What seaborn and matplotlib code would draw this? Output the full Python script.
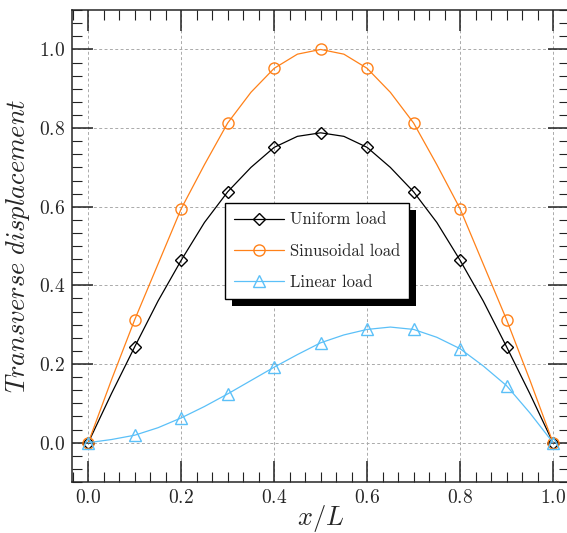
import matplotlib
matplotlib.use("Agg")
import matplotlib.pyplot as plt
import matplotlib.patheffects as pe
from matplotlib.ticker import MultipleLocator
import seaborn as sns

# positions along the beam (markers every 0.1, line points every 0.05)
x_pos = [0.0, 0.05, 0.1, 0.15, 0.2, 0.25, 0.3, 0.35, 0.4, 0.45, 0.5,
         0.55, 0.6, 0.65, 0.7, 0.75, 0.8, 0.85, 0.9, 0.95, 1.0]

uniform = [0.0, 0.125, 0.244, 0.36, 0.464, 0.56, 0.638, 0.70, 0.751, 0.779, 0.788,
           0.779, 0.751, 0.70, 0.638, 0.56, 0.464, 0.36, 0.244, 0.125, 0.0]
sinusoidal = [0.0, 0.16, 0.313, 0.454, 0.595, 0.707, 0.813, 0.891, 0.952, 0.988, 1.0,
              0.988, 0.952, 0.891, 0.813, 0.707, 0.595, 0.454, 0.313, 0.16, 0.0]
linear = [0.0, 0.008, 0.019, 0.038, 0.063, 0.092, 0.124, 0.158, 0.192, 0.224, 0.254,
          0.274, 0.288, 0.294, 0.288, 0.268, 0.239, 0.195, 0.145, 0.076, 0.0]

sns.set_style("ticks")
plt.rcParams['font.family'] = ['serif']
plt.rcParams['font.serif'] = ['cmr10', 'DejaVu Serif']
plt.rcParams['mathtext.fontset'] = 'cm'
plt.rcParams['axes.formatter.use_mathtext'] = True

fig = plt.figure(figsize=(5.67, 5.33), dpi=100)
ax = fig.add_axes([0.127, 0.0957, 0.877, 0.8853])

sns.lineplot(x=x_pos, y=uniform, ax=ax, color='black', lw=0.9,
             marker='D', ms=6.5, mfc='none', mec='black', mew=1.0,
             markevery=2, label='Uniform load')
sns.lineplot(x=x_pos, y=sinusoidal, ax=ax, color='#FF8119', lw=0.9,
             marker='o', ms=8, mfc='none', mec='#FF8119', mew=1.0,
             markevery=2, label='Sinusoidal load')
sns.lineplot(x=x_pos, y=linear, ax=ax, color='#5BC0F8', lw=0.9,
             marker='^', ms=8, mfc='none', mec='#5BC0F8', mew=1.0,
             markevery=2, label='Linear load')

ax.set_xlim(-0.035, 1.035)
ax.set_ylim(-0.1, 1.1)
ax.xaxis.set_major_locator(MultipleLocator(0.2))
ax.yaxis.set_major_locator(MultipleLocator(0.2))
ax.xaxis.set_minor_locator(MultipleLocator(0.2 / 6))
ax.yaxis.set_minor_locator(MultipleLocator(0.2 / 6))
ax.tick_params(which='both', direction='in', top=True, right=True,
               labelsize=14, pad=5, color='#222222')
ax.tick_params(which='major', length=15, width=1.1)
ax.tick_params(which='minor', length=7, width=0.8)
for s in ax.spines.values():
    s.set_linewidth(1.1)

ax.grid(True, which='major', color='#aaaaaa', lw=0.7, ls=(0, (3, 2.5)))
ax.set_axisbelow(True)

ax.set_xlabel(r'$x/L$', fontsize=19, labelpad=-3)
ax.set_ylabel(r'$Transverse\ displacement$', fontsize=19, labelpad=5)

leg = ax.legend(loc='upper left', bbox_to_anchor=(225 / 567, 1 - 203 / 533),
                bbox_transform=fig.transFigure, borderaxespad=0,
                fontsize=12, handlelength=3.0, handletextpad=0.35,
                borderpad=0.55, labelspacing=0.95,
                fancybox=False, framealpha=1, edgecolor='black', frameon=True)
leg.get_frame().set_linewidth(1.0)
leg.get_frame().set_path_effects([
    pe.SimplePatchShadow(offset=(5, -5), shadow_rgbFace='black', alpha=1),
    pe.Normal()])

fig.savefig('out.png', dpi=100)
